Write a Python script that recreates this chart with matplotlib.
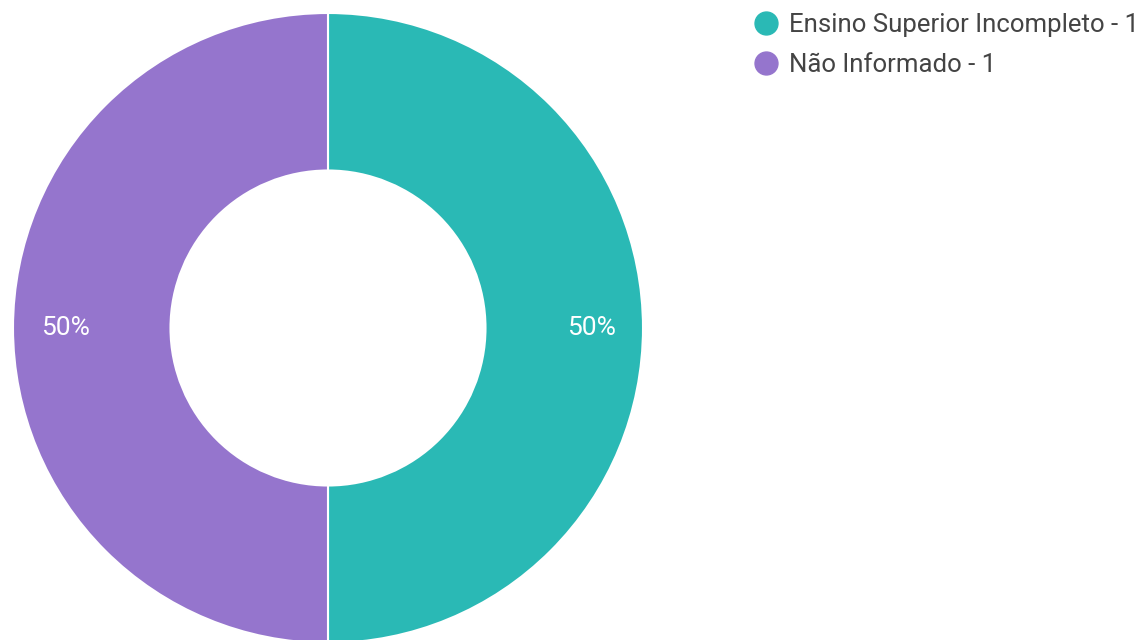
import matplotlib.pyplot as plt
from matplotlib.lines import Line2D

categories = ['Ensino Superior Incompleto', 'Não Informado']
counts = [1, 1]
colors = ['#2ab9b5', '#9575cd']

plt.rcParams['font.family'] = ['Roboto', 'DejaVu Sans']

W, H = 1144, 640
fig = plt.figure(figsize=(W / 100, H / 100), dpi=100)

# donut axes placed in pixel terms: centre (328, 328), radius 315
cx, cy, r = 328, 328, 315
ax = fig.add_axes([(cx - r) / W, (H - cy - r) / H, 2 * r / W, 2 * r / H])

wedges, texts, autotexts = ax.pie(
    counts, colors=colors, startangle=90, counterclock=False, radius=1,
    autopct='%1.0f%%', pctdistance=0.835,
    wedgeprops=dict(width=0.5, edgecolor='white', linewidth=1.5),
    textprops=dict(color='white', fontsize=19),
)
ax.set_xlim(-1, 1)
ax.set_ylim(-1, 1)
ax.set_aspect('equal')
ax.axis('off')

handles = [
    Line2D([0], [0], marker='o', linestyle='none', markersize=16.5,
           markerfacecolor=c, markeredgecolor=c)
    for c in colors
]
labels = [f'{name} - {n}' for name, n in zip(categories, counts)]
fig.legend(handles, labels, loc='upper left', bbox_to_anchor=(740 / W, 1 - 3 / H),
           frameon=False, fontsize=18.5, handletextpad=0.3, labelspacing=0.6,
           handlelength=1.2, labelcolor='#444444', borderaxespad=0)

fig.savefig('out.png', dpi=100)
